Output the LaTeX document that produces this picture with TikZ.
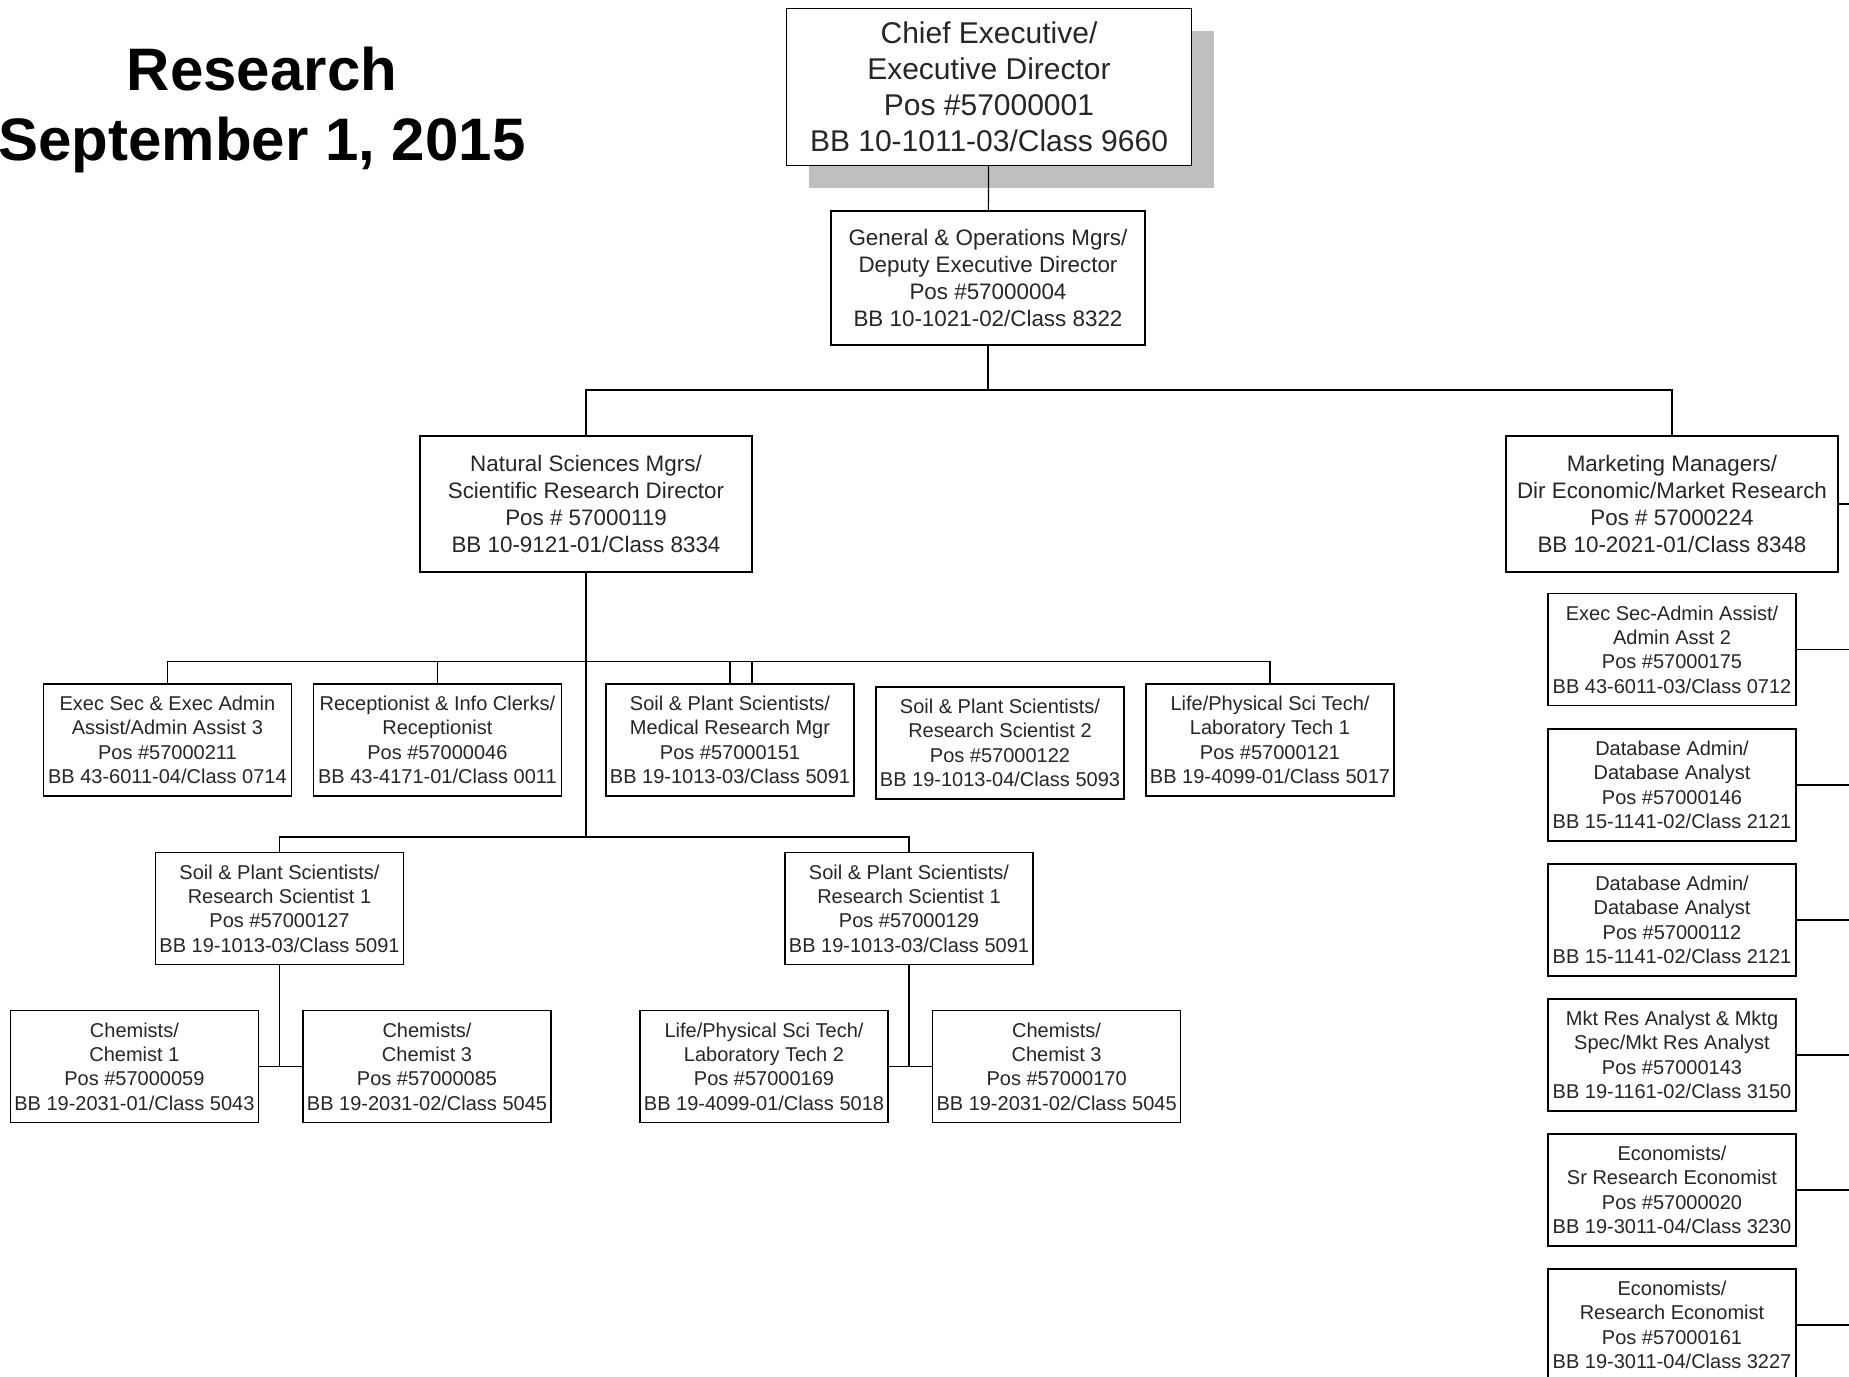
\documentclass[tikz,border=0pt]{standalone}
\usepackage{fontspec}
\setmainfont{Liberation Sans}
\usetikzlibrary{shadows}

\begin{document}
\begin{tikzpicture}[
  x=1pt, y=-1pt, line width=0.6pt,
  jobbox/.style={draw, fill=white, text=black!85, align=center, inner sep=1pt,
    minimum width=124pt, minimum height=56pt, font=\fontsize{10}{12.2}\selectfont},
  headbox/.style={jobbox, minimum width=166pt, minimum height=68pt,
    font=\fontsize{11.2}{13.5}\selectfont},
  chiefbox/.style={jobbox, minimum width=202.5pt, minimum height=78.5pt,
    font=\fontsize{15}{17.9}\selectfont,
    drop shadow={shadow xshift=11pt, shadow yshift=-11.5pt, fill=black!25, opacity=1}}
]
\useasboundingbox (0,0) rectangle (924.5,688.5);

\node[font=\bfseries\fontsize{30}{35.4}\selectfont, align=center, inner sep=0pt] (title) at (131,55)
  {Research\\September 1, 2015};

\node[chiefbox] (chief) at (494.5,43.3) {Chief Executive/\\Executive Director\\Pos \#57000001\\BB 10-1011-03/Class 9660};
\node[headbox, minimum width=157pt, minimum height=67pt] (deputy) at (494,139) {General \& Operations Mgrs/\\Deputy Executive Director\\Pos \#57000004\\BB 10-1021-02/Class 8322};
\node[headbox] (natsci) at (293,252) {Natural Sciences Mgrs/\\Scientific Research Director\\Pos \# 57000119\\BB 10-9121-01/Class 8334};
\node[headbox] (market) at (836,252) {Marketing Managers/\\Dir Economic/Market Research\\Pos \# 57000224\\BB 10-2021-01/Class 8348};

\node[jobbox] (execsec) at (83.7,370) {Exec Sec \& Exec Admin\\Assist/Admin Assist 3\\Pos \#57000211\\BB 43-6011-04/Class 0714};
\node[jobbox] (recep) at (218.7,370) {Receptionist \& Info Clerks/\\Receptionist\\Pos \#57000046\\BB 43-4171-01/Class 0011};
\node[jobbox] (medmgr) at (365,370) {Soil \& Plant Scientists/\\Medical Research Mgr\\Pos \#57000151\\BB 19-1013-03/Class 5091};
\node[jobbox] (sci122) at (500,371.5) {Soil \& Plant Scientists/\\Research Scientist 2\\Pos \#57000122\\BB 19-1013-04/Class 5093};
\node[jobbox] (lab121) at (635,370) {Life/Physical Sci Tech/\\Laboratory Tech 1\\Pos \#57000121\\BB 19-4099-01/Class 5017};

\node[jobbox] (sci127) at (139.75,454.3) {Soil \& Plant Scientists/\\Research Scientist 1\\Pos \#57000127\\BB 19-1013-03/Class 5091};
\node[jobbox] (sci129) at (454.5,454.3) {Soil \& Plant Scientists/\\Research Scientist 1\\Pos \#57000129\\BB 19-1013-03/Class 5091};

\node[jobbox] (chem059) at (67.2,533.3) {Chemists/\\Chemist 1\\Pos \#57000059\\BB 19-2031-01/Class 5043};
\node[jobbox] (chem085) at (213.5,533.3) {Chemists/\\Chemist 3\\Pos \#57000085\\BB 19-2031-02/Class 5045};
\node[jobbox] (lab169) at (382,533.3) {Life/Physical Sci Tech/\\Laboratory Tech 2\\Pos \#57000169\\BB 19-4099-01/Class 5018};
\node[jobbox] (chem170) at (528.3,533.3) {Chemists/\\Chemist 3\\Pos \#57000170\\BB 19-2031-02/Class 5045};

\node[jobbox] (adm175) at (836,324.75) {Exec Sec-Admin Assist/\\Admin Asst 2\\Pos \#57000175\\BB 43-6011-03/Class 0712};
\node[jobbox] (db146) at (836,392.5) {Database Admin/\\Database Analyst\\Pos \#57000146\\BB 15-1141-02/Class 2121};
\node[jobbox] (db112) at (836,460) {Database Admin/\\Database Analyst\\Pos \#57000112\\BB 15-1141-02/Class 2121};
\node[jobbox] (mkt143) at (836,527.5) {Mkt Res Analyst \& Mktg\\Spec/Mkt Res Analyst\\Pos \#57000143\\BB 19-1161-02/Class 3150};
\node[jobbox] (econ020) at (836,595) {Economists/\\Sr Research Economist\\Pos \#57000020\\BB 19-3011-04/Class 3230};
\node[jobbox] (econ161) at (836,662.5) {Economists/\\Research Economist\\Pos \#57000161\\BB 19-3011-04/Class 3227};

\coordinate (bustop) at (494,195);
\coordinate (busstaff) at (293,330.7);
\coordinate (bussci) at (293,418.5);
\coordinate (edge) at (924.5,252);

\draw (chief) -- (deputy);
\draw (deputy) -- (bustop);
\draw (natsci) |- (bustop) -| (market);
\draw[line width=1pt] (natsci) -- (bussci);
\draw (execsec) |- (busstaff) -| (lab121);
\draw (recep) -- (recep |- busstaff);
\draw (medmgr) -- (medmgr |- busstaff);
\draw ([xshift=11pt]medmgr.north) -- ([xshift=11pt]medmgr.north |- busstaff);
\draw (sci127) |- (bussci) -| (sci129);
\draw (sci127) -- (sci127 |- chem059);
\draw (chem059) -- (chem085);
\draw (sci129) -- (sci129 |- lab169);
\draw (lab169) -- (chem170);

\draw[line width=0.8pt] (market) -- (edge);
\foreach \n in {adm175,db146,db112,mkt143,econ020,econ161}
  \draw (\n) -- (\n -| edge);
\end{tikzpicture}
\end{document}
